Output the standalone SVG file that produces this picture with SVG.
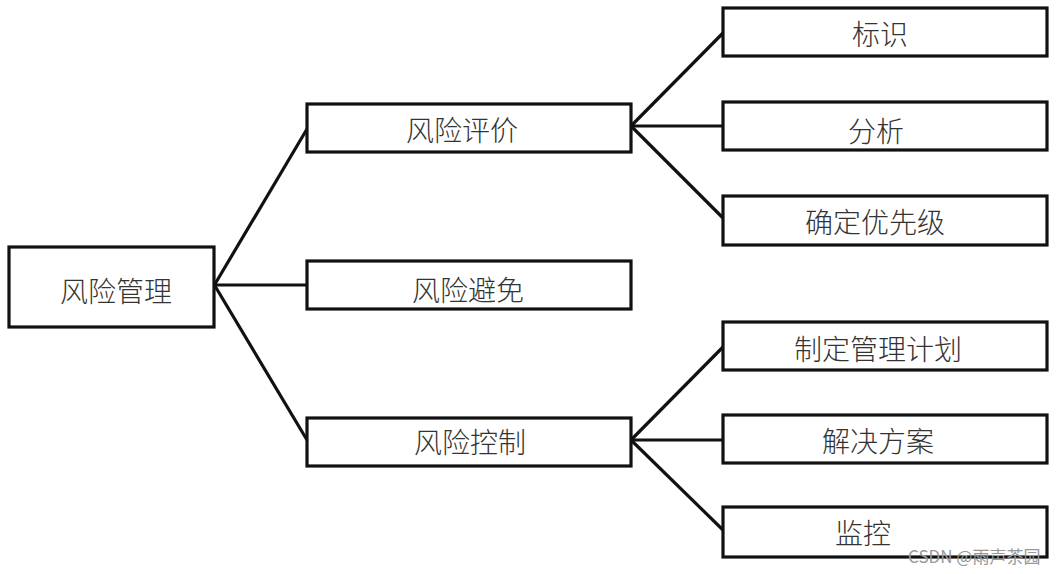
<svg xmlns="http://www.w3.org/2000/svg" width="1059" height="574" viewBox="0 0 1059 574">
<style>
.box{fill:#fff;stroke:#111;stroke-width:3.2}
.lbl{font-family:"Noto Sans CJK SC","Noto Sans",sans-serif;font-size:28px;font-weight:300;fill:#333;text-anchor:middle;dominant-baseline:central}
.edge{stroke:#111;stroke-width:3.2;fill:none}
.wm{font-family:"Noto Sans CJK SC","Noto Sans",sans-serif;font-size:17px;fill:#999}
</style>
<rect width="1059" height="574" fill="#fff"/>
<g id="connectors">
<line class="edge" x1="215" y1="284" x2="307" y2="129"/>
<line class="edge" x1="215" y1="285" x2="307" y2="285"/>
<line class="edge" x1="215" y1="286" x2="307" y2="440"/>
<line class="edge" x1="631" y1="126" x2="723" y2="33"/>
<line class="edge" x1="631" y1="126" x2="723" y2="126"/>
<line class="edge" x1="631" y1="126" x2="723" y2="218"/>
<line class="edge" x1="631" y1="440" x2="723" y2="347"/>
<line class="edge" x1="631" y1="440" x2="723" y2="440"/>
<line class="edge" x1="631" y1="440" x2="723" y2="530"/>
</g>
<g id="n-root"><rect class="box" x="9" y="247" width="205" height="80"/><text class="lbl" x="116" y="290">风险管理</text></g>
<g id="n-eval"><rect class="box" x="307" y="104" width="324" height="48"/><text class="lbl" x="462" y="129">风险评价</text></g>
<g id="n-avoid"><rect class="box" x="307" y="261" width="324" height="48"/><text class="lbl" x="468" y="289">风险避免</text></g>
<g id="n-control"><rect class="box" x="307" y="418" width="324" height="48"/><text class="lbl" x="470" y="441">风险控制</text></g>
<g id="n-identify"><rect class="box" x="723" y="8" width="324" height="48"/><text class="lbl" x="880" y="33">标识</text></g>
<g id="n-analyze"><rect class="box" x="723" y="102" width="324" height="48"/><text class="lbl" x="876" y="130">分析</text></g>
<g id="n-priority"><rect class="box" x="723" y="196" width="324" height="49"/><text class="lbl" x="875" y="221">确定优先级</text></g>
<g id="n-plan"><rect class="box" x="723" y="322" width="324" height="48"/><text class="lbl" x="878" y="348">制定管理计划</text></g>
<g id="n-solution"><rect class="box" x="723" y="415" width="324" height="48"/><text class="lbl" x="878" y="440">解决方案</text></g>
<g id="n-monitor"><rect class="box" x="723" y="507" width="324" height="50"/><text class="lbl" x="863" y="532">监控</text></g>
<text class="wm" x="908" y="563">CSDN @雨声茶园</text>
</svg>
